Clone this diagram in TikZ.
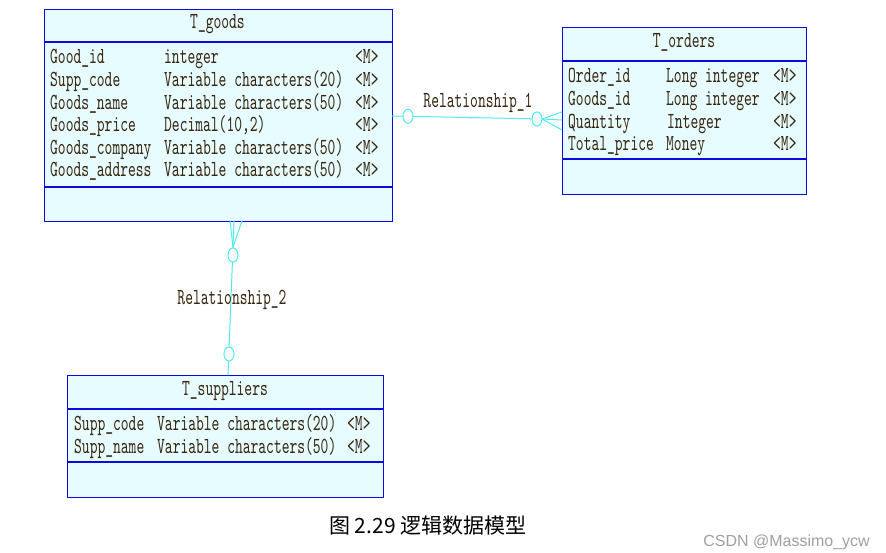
\documentclass[tikz,border=0pt]{standalone}
\usepackage{fontspec}
\usetikzlibrary{shapes.geometric}
\newfontfamily\erfont[FakeStretch=0.645]{lmmono10-regular.otf}
\newfontfamily\cjk{Noto Sans CJK SC}
\newfontfamily\wmfont{Liberation Sans}
\definecolor{boxblue}{RGB}{10,10,225}
\definecolor{boxfill}{RGB}{230,252,255}
\definecolor{relcyan}{RGB}{80,235,240}
\definecolor{txtcol}{RGB}{55,38,15}
\definecolor{wmgray}{RGB}{160,160,160}
\tikzset{
  tbl/.style={draw=boxblue, fill=boxfill, line width=1.3pt, rectangle, inner sep=0pt, anchor=north west},
  sep/.style={draw=boxblue, line width=1.3pt},
  txt/.style={anchor=base west, inner sep=0pt, text=txtcol, font=\erfont\fontsize{23}{23}\selectfont},
  ttl/.style={anchor=base, inner sep=0pt, text=txtcol, font=\erfont\fontsize{23}{23}\selectfont},
  rel/.style={draw=relcyan, line width=1pt},
  ring/.style={ellipse, draw=relcyan, fill=white, line width=1pt, minimum width=10pt, minimum height=14pt, inner sep=0pt},
}
\begin{document}
\begin{tikzpicture}[x=1pt,y=-1pt]
\useasboundingbox[fill=white] (0,0) rectangle (886,553);

% ---------- T_goods ----------
\node[tbl, minimum width=348pt, minimum height=212pt] (goods) at (44,9) {};
\draw[sep] (44,42) -- (392,42);
\draw[sep] (44,187) -- (392,187);
\node[ttl] (gt) at (217.5,29) {T\_goods};
\node[txt] (g1n) at (50,64) {Good\_id};
\node[txt] (g1t) at (164,64) {integer};
\node[txt] (g1m) at (355,64) {<M>};
\node[txt] (g2n) at (50,86.6) {Supp\_code};
\node[txt] (g2t) at (164,86.6) {Variable characters(20)};
\node[txt] (g2m) at (355,86.6) {<M>};
\node[txt] (g3n) at (50,109.2) {Goods\_name};
\node[txt] (g3t) at (164,109.2) {Variable characters(50)};
\node[txt] (g3m) at (355,109.2) {<M>};
\node[txt] (g4n) at (50,131.8) {Goods\_price};
\node[txt] (g4t) at (164,131.8) {Decimal(10,2)};
\node[txt] (g4m) at (355,131.8) {<M>};
\node[txt] (g5n) at (50,154.4) {Goods\_company};
\node[txt] (g5t) at (164,154.4) {Variable characters(50)};
\node[txt] (g5m) at (355,154.4) {<M>};
\node[txt] (g6n) at (50,177) {Goods\_address};
\node[txt] (g6t) at (164,177) {Variable characters(50)};
\node[txt] (g6m) at (355,177) {<M>};

% ---------- T_orders ----------
\node[tbl, minimum width=244pt, minimum height=167pt] (orders) at (562,27) {};
\draw[sep] (562,61) -- (806,61);
\draw[sep] (562,159) -- (806,159);
\node[ttl] (ot) at (684,48) {T\_orders};
\node[txt] (o1n) at (568,83) {Order\_id};
\node[txt] (o1t) at (666,83) {Long integer};
\node[txt] (o1m) at (773,83) {<M>};
\node[txt] (o2n) at (568,105.6) {Goods\_id};
\node[txt] (o2t) at (666,105.6) {Long integer};
\node[txt] (o2m) at (773,105.6) {<M>};
\node[txt] (o3n) at (568,128.2) {Quantity};
\node[txt] (o3t) at (667,128.2) {Integer};
\node[txt] (o3m) at (773,128.2) {<M>};
\node[txt] (o4n) at (568,150.8) {Total\_price};
\node[txt] (o4t) at (666,150.8) {Money};
\node[txt] (o4m) at (773,150.8) {<M>};

% ---------- T_suppliers ----------
\node[tbl, minimum width=316pt, minimum height=122pt] (supp) at (67,375) {};
\draw[sep] (67,409) -- (383,409);
\draw[sep] (67,462) -- (383,462);
\node[ttl] (st) at (225,395) {T\_suppliers};
\node[txt] (s1n) at (74,430) {Supp\_code};
\node[txt] (s1t) at (157,430) {Variable characters(20)};
\node[txt] (s1m) at (347,430) {<M>};
\node[txt] (s2n) at (74,453) {Supp\_name};
\node[txt] (s2t) at (157,453) {Variable characters(50)};
\node[txt] (s2m) at (347,453) {<M>};

% ---------- Relationship_1 ----------
\coordinate (r1a) at (392,116);
\coordinate (r1tip) at (542,119);
\coordinate (r1f1) at (562,112);
\coordinate (r1f2) at (562,120);
\coordinate (r1f3) at (562,130);
\draw[rel] (r1a) -- (r1tip);
\draw[rel] (r1tip) -- (r1f1);
\draw[rel] (r1tip) -- (r1f2);
\draw[rel] (r1tip) -- (r1f3);
\node[ring] (r1c1) at (408,116.3) {};
\node[ring] (r1c2) at (537,119) {};
\node[ttl] (r1l) at (478,108) {Relationship\_1};

% ---------- Relationship_2 ----------
\coordinate (r2tip) at (233,247);
\coordinate (r2f1) at (230,221);
\coordinate (r2f2) at (234,221);
\coordinate (r2f3) at (242,221);
\coordinate (r2b) at (228,375);
\draw[rel] (r2tip) -- (r2f1);
\draw[rel] (r2tip) -- (r2f2);
\draw[rel] (r2tip) -- (r2f3);
\draw[rel] (r2tip) -- (r2b);
\node[ring] (r2c1) at (233,255) {};
\node[ring] (r2c2) at (229,354) {};
\node[ttl] (r2l) at (232,305) {Relationship\_2};

% ---------- caption & watermark ----------
\node[anchor=base west, inner sep=0pt, font=\cjk\fontsize{21}{21}\selectfont] (cap) at (329,533) {图 2.29 逻辑数据模型};
\node[anchor=base east, inner sep=0pt, text=wmgray, font=\wmfont\fontsize{16}{16}\selectfont] (wm) at (870,546) {CSDN @Massimo\_ycw};
\end{tikzpicture}
\end{document}
